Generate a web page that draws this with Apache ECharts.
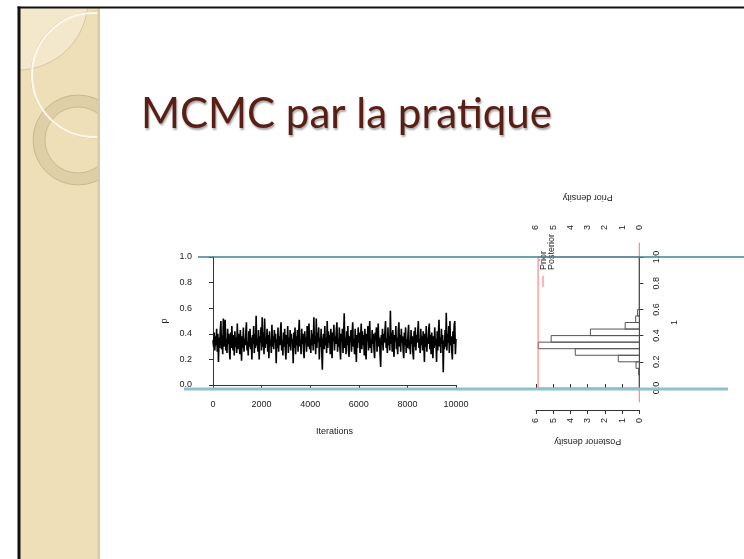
<!DOCTYPE html>
<html><head><meta charset="utf-8">
<script src="https://cdn.jsdelivr.net/npm/echarts@6/dist/echarts.min.js"></script>
<style>html,body{margin:0;padding:0;background:#fff}#c{width:744px;height:559px}</style>
</head><body><div id="c"></div>
<script>
const titleText = "MCMC par la pratique";
const traceStep = 25; // iterations between stored samples
const traceValues = [
0.35,0.30,0.41,0.27,0.38,0.31,0.44,0.26,0.40,0.18,0.37,0.29,0.43,0.50,0.28,0.39,0.24,0.52,0.30,0.42,
0.51,0.27,0.36,0.25,0.44,0.32,0.40,0.26,0.20,0.41,0.29,0.46,0.33,0.27,0.39,0.23,0.42,0.30,0.37,0.25,
0.48,0.31,0.28,0.40,0.24,0.43,0.33,0.19,0.38,0.29,0.45,0.26,0.36,0.31,0.41,0.49,0.27,0.34,0.23,0.42,
0.30,0.44,0.28,0.37,0.20,0.39,0.32,0.46,0.25,0.40,0.29,0.54,0.31,0.36,0.26,0.43,0.20,0.38,0.33,0.45,
0.27,0.53,0.30,0.41,0.24,0.52,0.29,0.37,0.32,0.44,0.26,0.39,0.21,0.42,0.31,0.35,0.25,0.47,0.30,0.38,
0.28,0.43,0.33,0.40,0.17,0.36,0.29,0.45,0.26,0.38,0.31,0.42,0.49,0.27,0.35,0.23,0.41,0.30,0.44,0.28,
0.20,0.39,0.32,0.46,0.25,0.37,0.30,0.43,0.27,0.40,0.33,0.36,0.17,0.41,0.29,0.45,0.24,0.38,0.31,0.43,
0.26,0.39,0.51,0.30,0.35,0.24,0.44,0.32,0.40,0.27,0.21,0.42,0.33,0.37,0.26,0.46,0.30,0.39,0.48,0.28,
0.36,0.25,0.43,0.31,0.40,0.27,0.53,0.32,0.38,0.24,0.52,0.29,0.41,0.34,0.45,0.20,0.37,0.30,0.44,0.26,
0.12,0.35,0.40,0.28,0.46,0.31,0.37,0.25,0.50,0.29,0.42,0.33,0.39,0.24,0.44,0.30,0.21,0.41,0.34,0.47,
0.27,0.38,0.32,0.43,0.49,0.26,0.36,0.30,0.45,0.28,0.20,0.40,0.33,0.44,0.25,0.39,0.56,0.29,0.37,0.24,
0.42,0.31,0.46,0.27,0.22,0.38,0.34,0.43,0.26,0.40,0.49,0.30,0.36,0.24,0.44,0.32,0.18,0.39,0.29,0.45,
0.33,0.41,0.25,0.37,0.48,0.28,0.42,0.31,0.39,0.23,0.44,0.30,0.20,0.40,0.34,0.46,0.27,0.38,0.50,0.29,
0.36,0.25,0.43,0.32,0.40,0.28,0.21,0.41,0.35,0.45,0.26,0.38,0.48,0.30,0.37,0.24,0.14,0.39,0.31,0.44,
0.27,0.40,0.33,0.42,0.50,0.29,0.36,0.25,0.45,0.31,0.38,0.27,0.58,0.32,0.41,0.26,0.43,0.30,0.22,0.39,
0.34,0.46,0.28,0.37,0.24,0.42,0.49,0.30,0.39,0.26,0.44,0.33,0.38,0.27,0.21,0.41,0.31,0.45,0.25,0.36,
0.29,0.40,0.47,0.28,0.35,0.24,0.43,0.32,0.38,0.26,0.20,0.42,0.30,0.45,0.27,0.39,0.33,0.41,0.50,0.29,
0.36,0.25,0.44,0.31,0.38,0.27,0.42,0.34,0.18,0.40,0.30,0.46,0.26,0.37,0.32,0.43,0.48,0.28,0.39,0.24,
0.41,0.33,0.21,0.38,0.29,0.45,0.31,0.36,0.18,0.42,0.27,0.40,0.51,0.30,0.37,0.25,0.44,0.32,0.39,0.10,
0.35,0.28,0.43,0.30,0.565,0.27,0.40,0.33,0.46,0.25,0.50,0.31,0.38,0.27,0.20,0.42,0.32,0.47,0.50,0.24,
0.36
];
const iterTicks = [0, 2000, 4000, 6000, 8000, 10000];
const pTicks = [0, 0.2, 0.4, 0.6, 0.8, 1.0];
const densityTicks = [0, 1, 2, 3, 4, 5, 6];
const binStarts = [0,0.05,0.10,0.15,0.20,0.25,0.30,0.35,0.40,0.45,0.50,0.55,0.60,0.65,0.70,0.75,0.80,0.85,0.90,0.95];
const binWidth = 0.05;
const posteriorDensity = [0,0,0.04,0.19,1.22,3.72,5.87,5.12,2.84,0.82,0.21,0.10,0,0,0,0,0,0,0,0];
const priorP = [-0.11, 0, 0, 1, 1, 1.11];
const priorDens = [0, 0, 5.88, 5.88, 0, 0];
const legendLabels = ["Prior", "Posterior"];

const traceData = traceValues.map((v, i) => [i * traceStep, v]);
const histData = binStarts.map((b, i) => [b, b + binWidth, posteriorDensity[i]]);
const priorData = priorP.map((p, i) => [priorDens[i], p]);

const FONT = "'Liberation Sans', Arial, sans-serif";
const axisCol = '#333';
const lbl = {fontFamily: FONT, fontSize: 9, color: '#222'};

const chart = echarts.init(document.getElementById('c'), null, {renderer: 'canvas'});
chart.setOption({
  animation: false,
  backgroundColor: '#fff',
  grid: [
    {left: 213, top: 257, width: 243, height: 128},
    {left: 536, top: 257, width: 103.3, height: 131}
  ],
  xAxis: [
    {gridIndex: 0, type: 'value', min: iterTicks[0], max: iterTicks[iterTicks.length - 1], interval: 2000, position: 'bottom', offset: 5,
     axisLine: {lineStyle: {color: axisCol, width: 1}}, axisTick: {length: 4, lineStyle: {color: axisCol}},
     axisLabel: Object.assign({margin: 10, formatter: v => String(v)}, lbl), splitLine: {show: false},
     name: 'Iterations', nameLocation: 'middle', nameGap: 37, nameTextStyle: lbl},
    {gridIndex: 1, type: 'value', min: densityTicks[0], max: densityTicks[densityTicks.length - 1], interval: 1, inverse: true, position: 'top', offset: 17,
     axisLine: {lineStyle: {color: axisCol, width: 1}}, axisTick: {length: 4, lineStyle: {color: axisCol}},
     axisLabel: Object.assign({margin: 10, rotate: 90}, lbl), splitLine: {show: false},
     name: 'Prior density', nameLocation: 'middle', nameGap: 38, nameRotate: 180, nameTextStyle: lbl},
    {gridIndex: 1, type: 'value', min: densityTicks[0], max: densityTicks[densityTicks.length - 1], interval: 1, inverse: true, position: 'bottom', offset: 22,
     axisLine: {lineStyle: {color: axisCol, width: 1}}, axisTick: {length: 4, lineStyle: {color: axisCol}},
     axisLabel: Object.assign({margin: 8, rotate: 90}, lbl), splitLine: {show: false},
     name: 'Posterior density', nameLocation: 'middle', nameGap: 27, nameRotate: 180, nameTextStyle: lbl}
  ],
  yAxis: [
    {gridIndex: 0, type: 'value', min: pTicks[0], max: pTicks[pTicks.length - 1], interval: 0.2, position: 'left', offset: 10,
     axisLine: {show: true, lineStyle: {color: axisCol, width: 1}}, axisTick: {show: true, length: 4, lineStyle: {color: axisCol}},
     axisLabel: Object.assign({margin: 11, formatter: v => v.toFixed(1)}, lbl), splitLine: {show: false},
     name: 'p', nameLocation: 'middle', nameGap: 34, nameRotate: 90, nameTextStyle: lbl},
    {gridIndex: 1, type: 'value', min: pTicks[0], max: pTicks[pTicks.length - 1], interval: 0.2, position: 'right', offset: 4,
     axisLine: {show: true, lineStyle: {color: axisCol, width: 1}}, axisTick: {show: true, length: 4, lineStyle: {color: axisCol}},
     axisLabel: Object.assign({margin: 9, rotate: 90, formatter: v => v.toFixed(1)}, lbl), splitLine: {show: false},
     name: '1', nameLocation: 'middle', nameGap: 27, nameRotate: 90, nameTextStyle: lbl}
  ],
  series: [
    {type: 'line', xAxisIndex: 0, yAxisIndex: 0, data: traceData, showSymbol: false, silent: true,
     lineStyle: {color: '#000', width: 1.6}},
    {type: 'line', xAxisIndex: 1, yAxisIndex: 1, data: priorData, showSymbol: false, silent: true, clip: false,
     lineStyle: {color: '#ff6e6e', width: 1}},
    {type: 'custom', xAxisIndex: 2, yAxisIndex: 1, data: histData, silent: true, clip: false,
     encode: {x: 2, y: [0, 1]},
     renderItem: function (params, api) {
       const a = api.coord([api.value(2), api.value(1)]);
       const b = api.coord([0, api.value(0)]);
       return {type: 'rect', shape: {x: Math.min(a[0], b[0]), y: Math.min(a[1], b[1]),
         width: Math.abs(a[0] - b[0]), height: Math.abs(a[1] - b[1])},
         style: {fill: 'none', stroke: '#555', lineWidth: 1}};
     }}
  ],
  graphic: [
    {type: 'rect', z: 0, shape: {x: 20, y: 8, width: 80, height: 551}, style: {fill: '#efdfb8'}},
    {type: 'circle', z: 0, shape: {cx: 18, cy: 0, r: 70}, style: {fill: 'rgba(255,255,255,0.28)', stroke: '#d8c59c', lineWidth: 1}},
    {type: 'circle', z: 0, shape: {cx: 78, cy: 140, r: 39}, style: {fill: 'none', stroke: 'rgba(170,150,110,0.22)', lineWidth: 12}},
    {type: 'circle', z: 0, shape: {cx: 78, cy: 140, r: 45}, style: {fill: 'none', stroke: 'rgba(150,130,90,0.35)', lineWidth: 1}},
    {type: 'circle', z: 0, shape: {cx: 78, cy: 140, r: 33}, style: {fill: 'none', stroke: 'rgba(150,130,90,0.35)', lineWidth: 1}},
    {type: 'circle', z: 0, shape: {cx: 94, cy: 75, r: 63}, style: {fill: 'none', stroke: 'rgba(190,170,130,0.5)', lineWidth: 1}},
    {type: 'circle', z: 0, shape: {cx: 94, cy: 75, r: 62}, style: {fill: 'none', stroke: '#fffaf0', lineWidth: 2}},
    {type: 'rect', z: 0, shape: {x: 97.5, y: 8, width: 2.5, height: 551}, style: {fill: '#dccaa2'}},
    {type: 'rect', z: 0, shape: {x: 100, y: 0, width: 70, height: 230}, style: {fill: '#fff'}},
    {type: 'rect', z: 0, shape: {x: 0, y: 0, width: 18, height: 559}, style: {fill: '#fff'}},
    {type: 'rect', z: 0, shape: {x: 0, y: 0, width: 744, height: 7}, style: {fill: '#fff'}},
    {type: 'rect', z: 1, shape: {x: 17.5, y: 6.5, width: 3, height: 553}, style: {fill: '#111'}},
    {type: 'rect', z: 1, shape: {x: 17.5, y: 6.5, width: 727, height: 2}, style: {fill: '#111'}},
    {type: 'text', z: 10, x: 141, y: 93, style: {text: titleText, fill: '#5a1f14', font: "42px Lato, 'Open Sans', sans-serif",
      textVerticalAlign: 'alphabetic', textAlign: 'left', textShadowColor: 'rgba(0,0,0,0.35)', textShadowBlur: 2, textShadowOffsetX: 1, textShadowOffsetY: 2}},
    {type: 'text', z: 10, x: 543.5, y: 270, rotation: Math.PI / 2, style: {text: legendLabels[0], fill: '#222', font: "9px 'Liberation Sans', Arial", textAlign: 'left', textVerticalAlign: 'middle'}},
    {type: 'text', z: 10, x: 551.5, y: 270, rotation: Math.PI / 2, style: {text: legendLabels[1], fill: '#222', font: "9px 'Liberation Sans', Arial", textAlign: 'left', textVerticalAlign: 'middle'}},
    {type: 'line', z: 10, shape: {x1: 543, y1: 276, x2: 543, y2: 287}, style: {stroke: '#ff6e6e', lineWidth: 1}},
    {type: 'line', z: 20, shape: {x1: 198, y1: 257, x2: 744, y2: 257}, style: {stroke: '#3d8299', lineWidth: 1.5}},
    {type: 'line', z: 20, shape: {x1: 184, y1: 389, x2: 728, y2: 389}, style: {stroke: '#8fc1cc', lineWidth: 3}}
  ]
});
</script>
</body></html>
